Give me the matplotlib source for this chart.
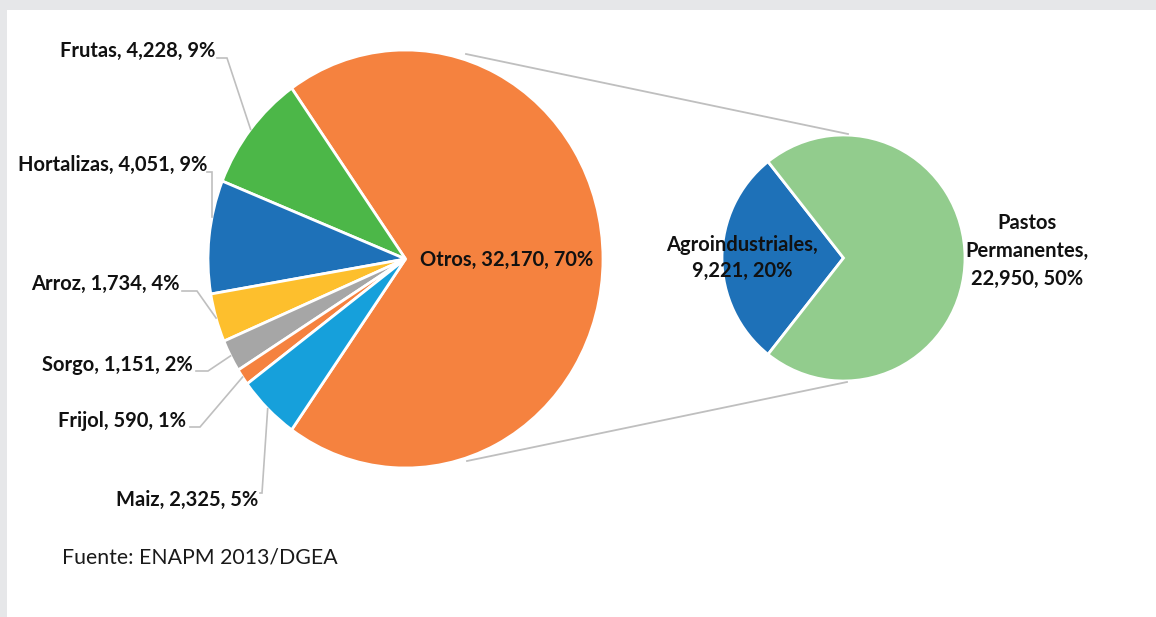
import matplotlib
matplotlib.use("Agg")
import matplotlib.pyplot as plt
import numpy as np

# ---- data ----
main_labels = ["Otros", "Frutas", "Hortalizas", "Arroz", "Sorgo", "Frijol", "Maiz"]
main_values = [32170, 4228, 4051, 1734, 1151, 590, 2325]
main_pcts = ["70%", "9%", "9%", "4%", "2%", "1%", "5%"]
main_colors = ["#F5823F", "#4CB748", "#1E71B8", "#FDBF2D", "#A6A6A6", "#F5823F", "#16A0DB"]

sub_labels = ["Agroindustriales", "Pastos Permanentes"]
sub_values = [9221, 22950]
sub_pcts = ["20%", "50%"]
sub_colors = ["#1E71B8", "#92CC8D"]

source_text = "Fuente: ENAPM 2013/DGEA"

# ---- layout (pixels) ----
W, H = 1156, 617
MAIN_BOX = (208, 50, 603, 468)   # left, top, right, bottom
SUB_BOX = (722, 135, 965, 381)

FONT = "Lato"
LBL = dict(fontsize=14.5, fontweight="bold", color="#111111", family=FONT)

fig = plt.figure(figsize=(W / 100, H / 100), dpi=100)
fig.patch.set_facecolor("white")

def box_axes(box):
    l, t, r, b = box
    return fig.add_axes([l / W, 1 - b / H, (r - l) / W, (b - t) / H])

# main pie
total = sum(main_values)
otros_deg = main_values[0] / total * 360
ax1 = box_axes(MAIN_BOX)
wedges1, _ = ax1.pie(main_values, colors=main_colors, startangle=-otros_deg / 2,
                     counterclock=True, radius=1,
                     wedgeprops=dict(edgecolor="white", linewidth=2))
ax1.set_aspect("auto")
ax1.set_xlim(-1, 1)
ax1.set_ylim(-1, 1)
ax1.axis("off")

# sub pie
sub_total = sum(sub_values)
agro_deg = sub_values[0] / sub_total * 360
ax2 = box_axes(SUB_BOX)
wedges2, _ = ax2.pie(sub_values, colors=sub_colors, startangle=180 - agro_deg / 2,
                     counterclock=True, radius=1,
                     wedgeprops=dict(edgecolor="white", linewidth=2))
ax2.set_aspect("auto")
ax2.set_xlim(-1, 1)
ax2.set_ylim(-1, 1)
ax2.axis("off")

# overlay in pixel coordinates
ov = fig.add_axes([0, 0, 1, 1])
ov.set_xlim(0, W)
ov.set_ylim(H, 0)
ov.axis("off")
ov.patch.set_alpha(0)

# background frame bands
ov.add_patch(plt.Rectangle((0, 0), W, 10, color="#E6E7E9", lw=0))
ov.add_patch(plt.Rectangle((0, 0), 7, H, color="#E6E7E9", lw=0))

def edge_point(box, ang_deg, r=1.0):
    l, t, rr, b = box
    cx, cy = (l + rr) / 2, (t + b) / 2
    rx, ry = (rr - l) / 2, (b - t) / 2
    a = np.deg2rad(ang_deg)
    return cx + r * rx * np.cos(a), cy - r * ry * np.sin(a)

def fmt(v):
    return f"{v:,}"

# mid angles of main wedges
mids = [(w.theta1 + w.theta2) / 2 for w in wedges1]

# Otros label
ov.text(507, 260, f"{main_labels[0]}, {fmt(main_values[0])}, {main_pcts[0]}",
        ha="center", va="center", **LBL)

# outside labels: (text right x, text center y, stub start, stub end)
label_pos = {
    "Frutas": (215, 51, (217, 58), (227, 58)),
    "Hortalizas": (207, 165, (207, 172), (212, 172)),
    "Arroz": (180, 284, (182, 291), (197, 291)),
    "Sorgo": (193, 365, (196, 371), (208, 371)),
    "Frijol": (186, 421, (190, 427), (200, 427)),
    "Maiz": (258, 500, (260, 493), (262, 493)),
}
for i, name in enumerate(main_labels[1:], start=1):
    tx, ty, s0, s1 = label_pos[name]
    ov.text(tx, ty, f"{name}, {fmt(main_values[i])}, {main_pcts[i]}",
            ha="right", va="center", **LBL)
    ex, ey = edge_point(MAIN_BOX, mids[i])
    if name == "Hortalizas":
        # vertical leader down to the pie edge
        l, t, rr, b = MAIN_BOX
        cx, cy = (l + rr) / 2, (t + b) / 2
        rx, ry = (rr - l) / 2, (b - t) / 2
        c = (s1[0] - cx) / rx
        ex, ey = s1[0], cy - ry * np.sqrt(1 - c * c)
    ov.plot([s0[0], s1[0], ex], [s0[1], s1[1], ey], color="#BFBFBF", lw=1.2,
            solid_joinstyle="miter")

# sub pie labels
ov.text(742, 258, f"{sub_labels[0]},\n{fmt(sub_values[0])}, {sub_pcts[0]}",
        ha="center", va="center", linespacing=1.4, **LBL)
ov.text(1027, 251, f"Pastos\nPermanentes,\n{fmt(sub_values[1])}, {sub_pcts[1]}",
        ha="center", va="center", linespacing=1.5, **LBL)

# connector lines between pies
ov.plot([466, 848], [54, 134], color="#BFBFBF", lw=1.3)
ov.plot([467, 847], [461, 382], color="#BFBFBF", lw=1.3)

# source
ov.text(62, 557, source_text, ha="left", va="center", fontsize=15.3,
        family=FONT, color="#1a1a1a")

fig.savefig("out.png", dpi=100)
